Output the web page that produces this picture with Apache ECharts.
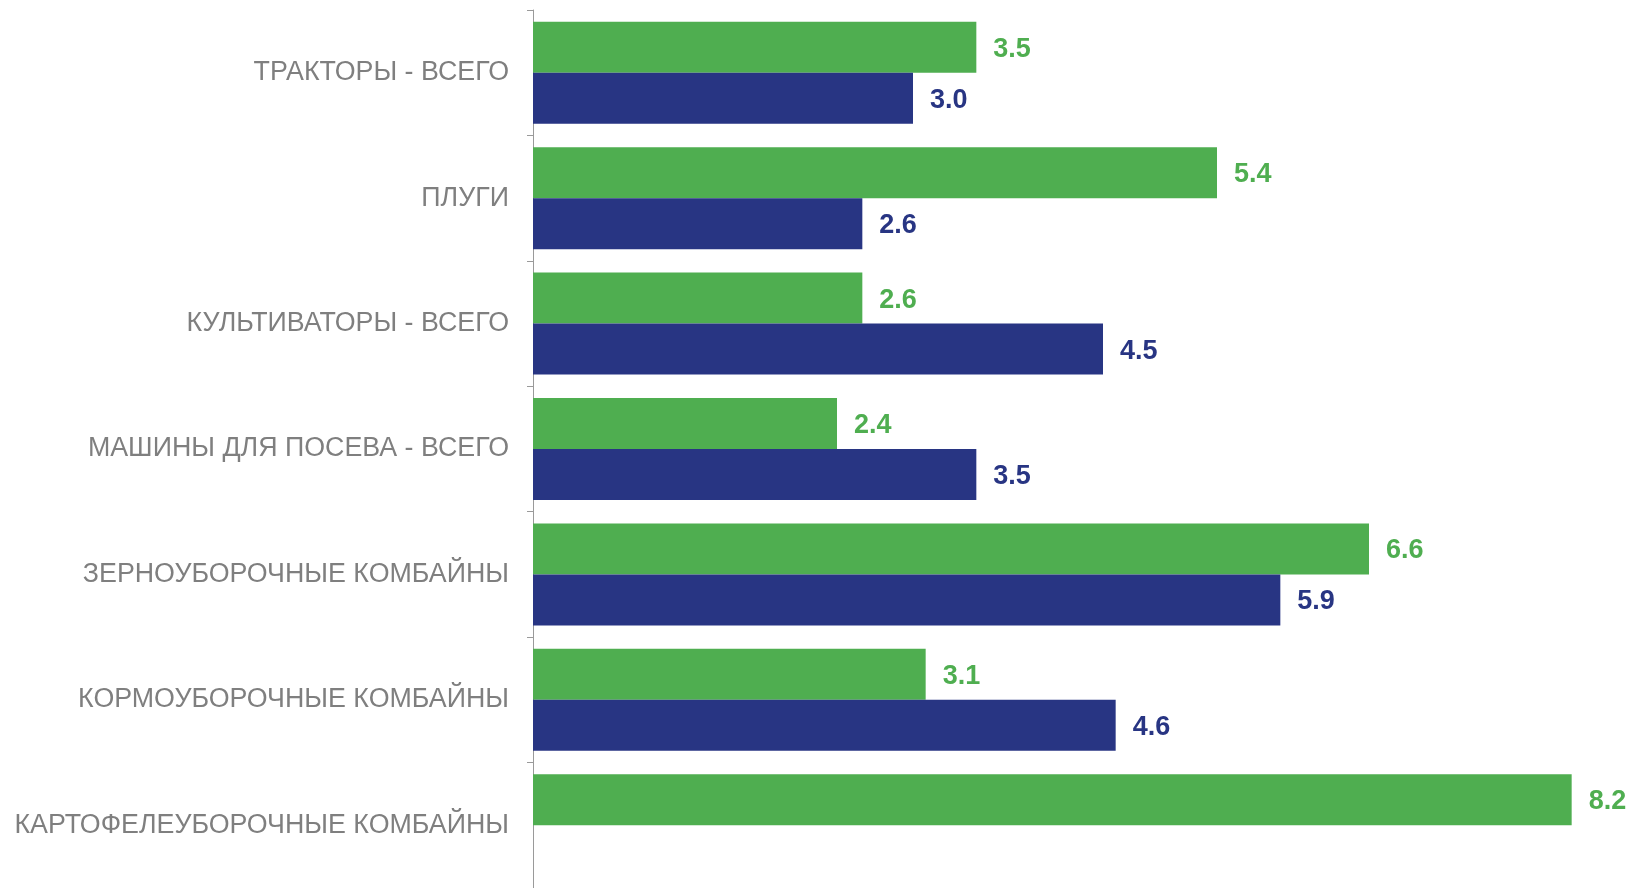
<!DOCTYPE html>
<html>
<head>
<meta charset="utf-8">
<script src="https://cdn.jsdelivr.net/npm/echarts@6/dist/echarts.min.js"></script>
<style>
html,body{margin:0;padding:0;background:#fff;}
#chart{width:1635px;height:888px;}
</style>
</head>
<body>
<div id="chart"></div>
<script>
const categories = [
  'ТРАКТОРЫ - ВСЕГО',
  'ПЛУГИ',
  'КУЛЬТИВАТОРЫ - ВСЕГО',
  'МАШИНЫ ДЛЯ ПОСЕВА - ВСЕГО',
  'ЗЕРНОУБОРОЧНЫЕ КОМБАЙНЫ',
  'КОРМОУБОРОЧНЫЕ КОМБАЙНЫ',
  'КАРТОФЕЛЕУБОРОЧНЫЕ КОМБАЙНЫ'
];
const greenValues = [3.5, 5.4, 2.6, 2.4, 6.6, 3.1, 8.2];
const blueValues = [3.0, 2.6, 4.5, 3.5, 5.9, 4.6, null];

const GREEN = '#4FAE50';
const BLUE = '#283583';

const chart = echarts.init(document.getElementById('chart'));
const labelStyle = (color) => ({
  show: true,
  position: 'right',
  distance: 17,
  offset: [0, 2],
  color: color,
  fontFamily: 'Liberation Sans, Arial, sans-serif',
  fontWeight: 'bold',
  fontSize: 27,
  formatter: (p) => p.value == null ? '' : Number(p.value).toFixed(1)
});
chart.setOption({
  animation: false,
  backgroundColor: '#ffffff',
  grid: { left: 533, top: 10, right: 0, height: 880, containLabel: false },
  xAxis: {
    type: 'value',
    min: 0,
    max: 8.7,
    show: false
  },
  yAxis: {
    type: 'category',
    data: categories,
    inverse: true,
    axisLine: { show: true, lineStyle: { color: '#9a9a9a', width: 1 } },
    axisTick: { show: true, length: 6, lineStyle: { color: '#9a9a9a' } },
    axisLabel: {
      color: '#7f7f7f',
      fontFamily: 'Liberation Sans, Arial, sans-serif',
      fontSize: 26.8,
      margin: 24
    },
    splitLine: { show: false }
  },
  series: [
    {
      name: 'green',
      type: 'bar',
      data: greenValues,
      barWidth: 51,
      barGap: '0%',
      itemStyle: { color: GREEN },
      label: labelStyle(GREEN)
    },
    {
      name: 'blue',
      type: 'bar',
      data: blueValues,
      barWidth: 51,
      barGap: '0%',
      itemStyle: { color: BLUE },
      label: labelStyle(BLUE)
    }
  ]
});
</script>
</body>
</html>
